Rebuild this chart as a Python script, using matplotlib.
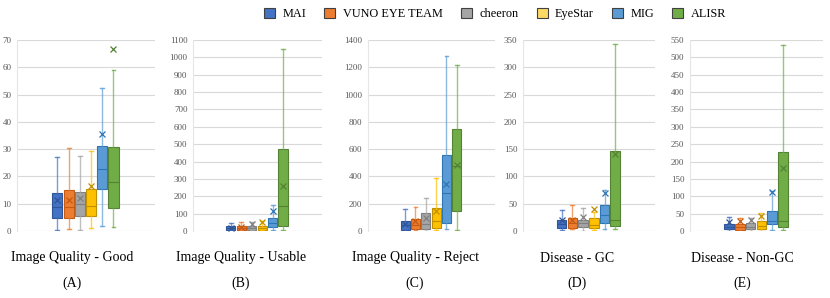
import matplotlib
matplotlib.use("agg")
from matplotlib import pyplot as plt
from matplotlib.patches import Patch

plt.rcParams['font.family'] = ['Liberation Serif', 'DejaVu Serif']

teams = ["MAI", "VUNO EYE TEAM", "cheeron", "EyeStar", "MIG", "ALISR"]
colors = ["#4472C4", "#ED7D31", "#A5A5A5", "#FFC000", "#5B9BD5", "#70AD47"]
dark = ["#2F5597", "#C55A11", "#7F7F7F", "#BF9000", "#2E75B6", "#548235"]

titles = ["Image Quality - Good", "Image Quality - Usable", "Image Quality - Reject",
          "Disease - GC", "Disease - Non-GC"]
letters = ["(A)", "(B)", "(C)", "(D)", "(E)"]
ymax = [70, 1100, 1400, 350, 550]
ystep = [10, 100, 200, 50, 50]

# per team: [whisker low, q1, median, q3, whisker high, mean]
good = [[0.3, 4.9, 8.7, 13.9, 27.1, 11.4],
        [0.6, 4.6, 8.9, 14.9, 30.6, 11.4],
        [0.4, 5.6, 9.9, 14.2, 27.5, 12.2],
        [1.2, 5.4, 9.0, 15.3, 29.3, 16.4],
        [1.8, 15.5, 22.6, 31.3, 52.5, 35.4],
        [1.6, 8.5, 17.8, 30.9, 59.0, 66.7]]
usable = [[4, 6, 17, 29, 44, 19],
          [3, 5, 15, 27, 50, 21],
          [4, 6, 18, 27, 50, 38],
          [3, 6, 18, 31, 60, 50],
          [6, 25, 48, 73, 152, 117],
          [5, 30, 145, 470, 1050, 260]]
reject = [[0, 10, 45, 76, 161, 50],
          [10, 15, 45, 88, 174, 75],
          [0, 15, 50, 134, 244, 98],
          [10, 20, 75, 171, 390, 147],
          [15, 61, 275, 560, 1285, 345],
          [5, 150, 480, 750, 1215, 484]]
gc = [[1, 6, 13, 20, 38, 21],
      [3, 6, 15, 24, 48, 21],
      [0, 8, 14, 21, 42, 25],
      [2, 6, 11, 24, 35, 41],
      [3, 15, 29, 48, 76, 70],
      [4, 10, 20, 147, 343, 142]]
nongc = [[0, 5, 12, 20, 41, 27],
         [0, 3, 12, 21, 38, 30],
         [0, 5, 12, 22, 38, 32],
         [0, 6, 15, 28, 51, 44],
         [2, 19, 30, 58, 115, 113],
         [3, 12, 30, 227, 535, 182]]
panels = [good, usable, reject, gc, nongc]

ax_left = [17, 193, 368, 523, 690]
ax_width = [138, 129, 127, 132, 133]
title_x = [72, 241, 415, 577, 742]

W, H = 830, 298
fig = plt.figure(figsize=(W / 100, H / 100), dpi=100)

for k, data in enumerate(panels):
    ax = fig.add_axes([ax_left[k] / W, (H - 231) / H, ax_width[k] / W, 191 / H])
    for i, row in enumerate(data):
        lo, q1, med, q3, hi, mean = row
        st = [dict(whislo=lo, q1=q1, med=med, q3=q3, whishi=hi, mean=mean, fliers=[])]
        ax.bxp(st, positions=[i + 1], widths=0.9, patch_artist=True, showmeans=True,
               boxprops=dict(facecolor=colors[i], edgecolor=dark[i], linewidth=0.8),
               medianprops=dict(color=dark[i], linewidth=0.8),
               whiskerprops=dict(color=colors[i], linewidth=1.0, alpha=0.7),
               capprops=dict(color=colors[i], linewidth=1.0, alpha=0.8),
               capwidths=0.35,
               meanprops=dict(marker="x", markeredgecolor=dark[i], markersize=5,
                              markeredgewidth=0.9))
    ax.set_xlim(-2.6, 9.7)
    ax.set_ylim(0, ymax[k])
    ax.set_yticks(range(0, ymax[k] + 1, ystep[k]))
    ax.set_xticks([])
    ax.tick_params(axis="y", length=0, labelsize=6.5, labelcolor="#595959", pad=4)
    ax.grid(axis="y", color="#D9D9D9", linewidth=0.8)
    ax.set_axisbelow(True)
    for s in ["top", "right", "bottom"]:
        ax.spines[s].set_visible(False)
    ax.spines["left"].set_color("#E6E6E6")
    fig.text(title_x[k] / W, 1 - 258 / H, titles[k], ha="center", va="center", fontsize=10)
    fig.text(title_x[k] / W, 1 - 283 / H, letters[k], ha="center", va="center", fontsize=10)

legend_colors = ["#4472C4", "#ED7D31", "#A5A5A5", "#FFD966", "#5B9BD5", "#70AD47"]
handles = [Patch(facecolor=c, edgecolor="#404040", linewidth=0.8) for c in legend_colors]
fig.legend(handles, teams, loc="center", bbox_to_anchor=(495 / W, 1 - 14 / H), ncol=6,
           frameon=False, fontsize=8.8, handlelength=0.9, handleheight=0.9,
           columnspacing=1.5, handletextpad=0.6)

plt.savefig("out.png", dpi=100)
